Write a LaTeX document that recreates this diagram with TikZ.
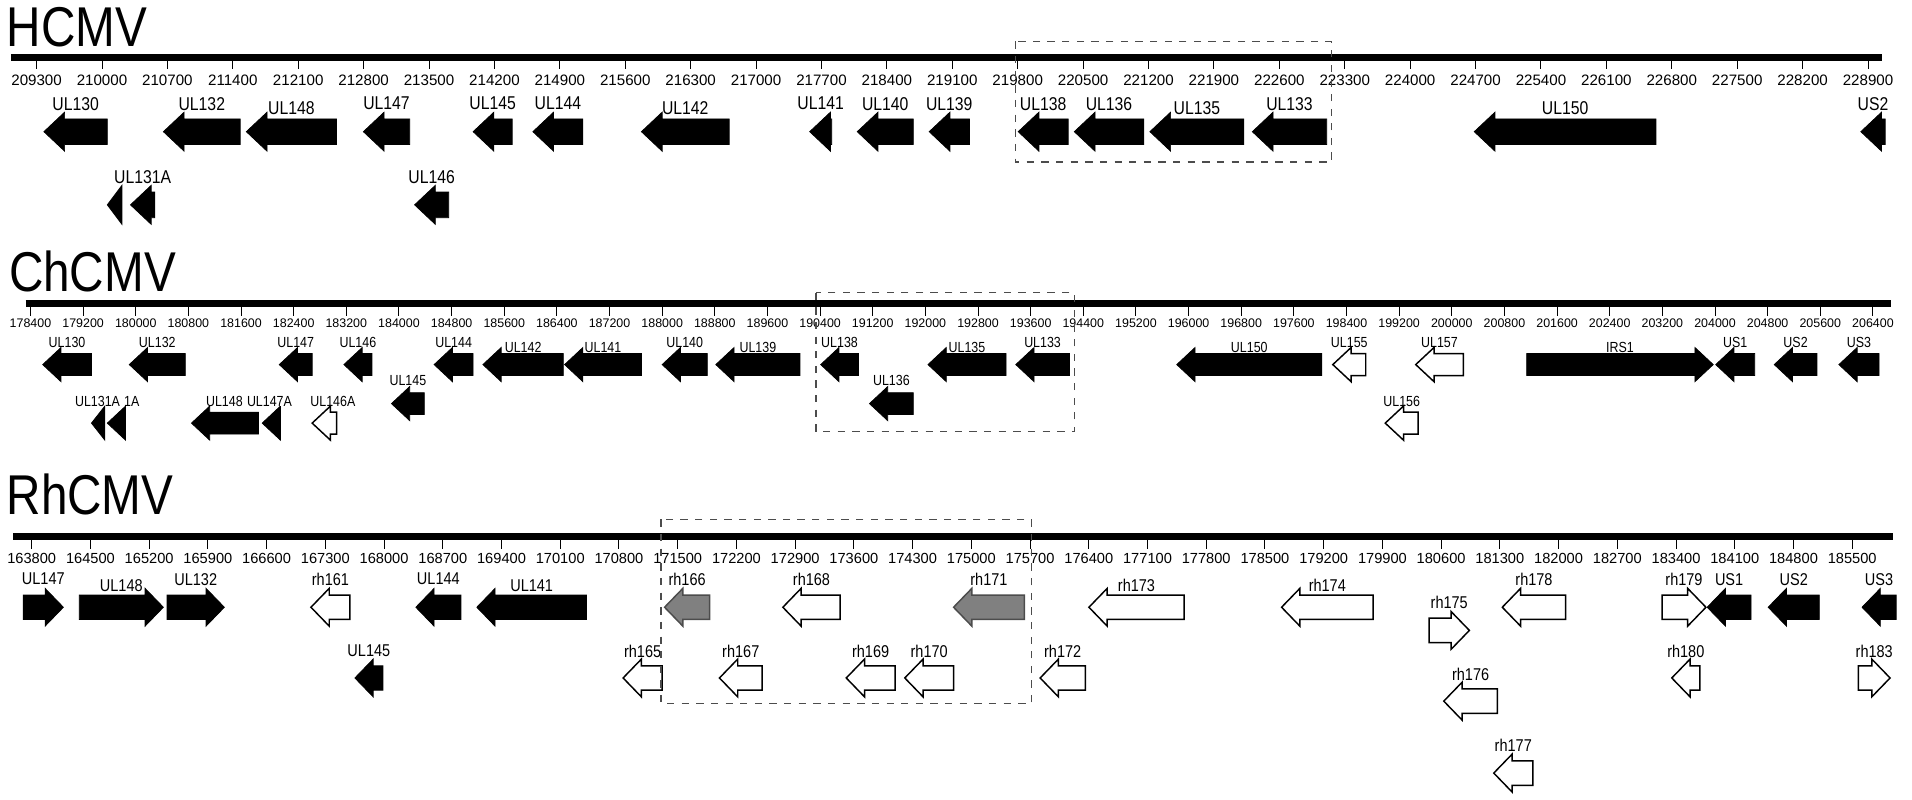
\documentclass[tikz,border=0pt]{standalone}
\usepackage{fontspec}
\setmainfont{Liberation Sans}
\newfontfamily\narrowf[FakeStretch=0.85]{Liberation Sans}
\newcount\gnum
% gene arrows: style, left x, right x, centre y, label, label y
\newcommand{\genL}[6]{%
  \pgfmathsetmacro{\hd}{min(\hl,#3-#2)}%
  \draw[#1] (#2,#4) -- ({#2+\hd},{#4-\hh}) -- ({#2+\hd},{#4-\hb}) -- (#3,{#4-\hb})
    -- (#3,{#4+\hb}) -- ({#2+\hd},{#4+\hb}) -- ({#2+\hd},{#4+\hh}) -- cycle;
  \global\advance\gnum by 1
  \node[lbl] (g\the\gnum) at ({(#2+#3)/2},#6) {#5};}
\newcommand{\genR}[6]{%
  \pgfmathsetmacro{\hd}{min(\hl,#3-#2)}%
  \draw[#1] (#3,#4) -- ({#3-\hd},{#4-\hh}) -- ({#3-\hd},{#4-\hb}) -- (#2,{#4-\hb})
    -- (#2,{#4+\hb}) -- ({#3-\hd},{#4+\hb}) -- ({#3-\hd},{#4+\hh}) -- cycle;
  \global\advance\gnum by 1
  \node[lbl] (g\the\gnum) at ({(#2+#3)/2},#6) {#5};}
% ruler: axis y, x from, x to, first tick x, tick step, ticks, first value, value step, label y
\newcommand{\ruler}[9]{%
  \draw[line width=2.8pt] (#2,#1) -- (#3,#1);
  \foreach \i in {0,...,#6} {
    \pgfmathsetmacro{\tx}{#4+\i*#5}
    \edef\tv{\the\numexpr#7+\i*#8\relax}
    \draw[thin] (\tx,#1) -- (\tx,#1+10);
    \node[tick] (t\i) at (\tx,#9) {\tv};
  }}
\begin{document}
\begin{tikzpicture}[x=0.5pt,y=-0.5pt,
  blk/.style={fill=black,draw=black,line width=0.3pt},
  opn/.style={fill=white,draw=black,line width=0.6pt},
  gry/.style={fill=black!50,draw=black!70,line width=0.6pt},
  dbox/.style={draw=black!70,dashed,line width=0.6pt},
  title/.style={anchor=base west,inner sep=0pt,font=\narrowf\fontsize{23}{23}\selectfont},
  lbl/.style={inner sep=0pt,font=\narrowf\fontsize{7.6}{8}\selectfont},
  tick/.style={inner sep=0pt,font=\fontsize{6.2}{7}\selectfont}]
\useasboundingbox (0,0) rectangle (1568,656);

% HCMV
\node[title] (hcmv) at (5,38) {HCMV};
\ruler{47}{9}{1543}{30}{53.64}{28}{209300}{700}{66}
\def\hb{10.5}\def\hh{16}\def\hl{17}
\genL{blk}{36}{88}{108}{UL130}{85}
\genL{blk}{134}{197}{108}{UL132}{85}
\genL{blk}{202}{276}{108}{UL148}{89}
\genL{blk}{298}{336}{108}{UL147}{85}
\genL{blk}{388}{420}{108}{UL145}{85}
\genL{blk}{437}{478}{108}{UL144}{85}
\genL{blk}{526}{598}{108}{UL142}{89}
\genL{blk}{664}{682}{108}{UL141}{85}
\genL{blk}{703}{749}{108}{UL140}{85}
\genL{blk}{762}{795}{108}{UL139}{85}
\genL{blk}{835}{876}{108}{UL138}{85}
\genL{blk}{881}{938}{108}{UL136}{85}
\genL{blk}{943}{1020}{108}{UL135}{89}
\genL{blk}{1027}{1088}{108}{UL133}{85}
\genL{blk}{1209}{1358}{108}{UL150}{89}
\genL{blk}{1526}{1546}{108}{US2}{85}
\genL{blk}{88}{100}{168}{}{145}
\genL{blk}{107}{127}{168}{UL131A}{145}
\genL{blk}{340}{368}{168}{UL146}{145}
\draw[dbox] (833,34) rectangle (1092,133);

% ChCMV
\node[title] (chcmv) at (7,239) {ChCMV};
\begin{scope}[lbl/.append style={font=\narrowf\fontsize{6}{7}\selectfont},
  tick/.append style={font=\fontsize{5.1}{6}\selectfont}]
\ruler{249}{21}{1551}{25}{43.17}{35}{178400}{800}{265}
\def\hb{9}\def\hh{14}\def\hl{15}
\genL{blk}{35}{75}{299}{UL130}{281}
\genL{blk}{106}{152}{299}{UL132}{281}
\genL{blk}{229}{256}{299}{UL147}{281}
\genL{blk}{282}{305}{299}{UL146}{281}
\genL{blk}{356}{388}{299}{UL144}{281}
\genL{blk}{396}{462}{299}{UL142}{285}
\genL{blk}{463}{526}{299}{UL141}{285}
\genL{blk}{543}{580}{299}{UL140}{281}
\genL{blk}{587}{656}{299}{UL139}{285}
\genL{blk}{673}{704}{299}{UL138}{281}
\genL{blk}{761}{825}{299}{UL135}{285}
\genL{blk}{833}{877}{299}{UL133}{281}
\genL{blk}{965}{1084}{299}{UL150}{285}
\genL{opn}{1093}{1120}{299}{UL155}{281}
\genL{opn}{1161}{1200}{299}{UL157}{281}
\genR{blk}{1252}{1405}{299}{IRS1}{285}
\genL{blk}{1407}{1439}{299}{US1}{281}
\genL{blk}{1455}{1490}{299}{US2}{281}
\genL{blk}{1508}{1541}{299}{US3}{281}
\genL{blk}{321}{348}{331}{UL145}{312}
\genL{blk}{713}{749}{331}{UL136}{312}
\genL{blk}{75}{86}{347}{}{329}
\genL{blk}{88}{103}{347}{}{329}
\genL{blk}{157}{212}{347}{}{329}
\genL{blk}{215}{230}{347}{}{329}
\genL{opn}{256}{276}{347}{}{329}
\genL{opn}{1136}{1163}{347}{UL156}{329}
\node[lbl] (ul131a) at (80,329) {UL131A};
\node[lbl] (ul131b) at (108,329) {1A};
\node[lbl] (ul148) at (184,329) {UL148};
\node[lbl,fill=white,inner xsep=1pt] (ul147a) at (221,329) {UL147A};
\node[lbl] (ul146a) at (273,329) {UL146A};
\end{scope}
\draw[dbox] (669,240) rectangle (881,354);

% RhCMV
\node[title] (rhcmv) at (5,422) {RhCMV};
\begin{scope}[lbl/.append style={font=\narrowf\fontsize{7}{8}\selectfont},
  tick/.append style={font=\fontsize{6}{7}\selectfont}]
\ruler{440}{11}{1552}{26}{48.16}{31}{163800}{700}{458}
\def\hb{10}\def\hh{15.5}\def\hl{15}
\genR{blk}{19}{52}{498}{UL147}{475}
\genR{blk}{65}{134}{498}{UL148}{480}
\genR{blk}{137}{184}{498}{UL132}{475}
\genL{opn}{255}{287}{498}{rh161}{475}
\genL{blk}{341}{378}{498}{UL144}{475}
\genL{blk}{391}{481}{498}{UL141}{480}
\genL{gry}{545}{582}{498}{rh166}{475}
\genL{opn}{642}{689}{498}{rh168}{475}
\genL{gry}{782}{840}{498}{rh171}{475}
\genL{opn}{893}{971}{498}{rh173}{480}
\genL{opn}{1051}{1126}{498}{rh174}{480}
\genL{opn}{1232}{1284}{498}{rh178}{475}
\genR{opn}{1363}{1399}{498}{rh179}{475}
\genL{blk}{1400}{1436}{498}{US1}{475}
\genL{blk}{1450}{1492}{498}{US2}{475}
\genL{blk}{1527}{1555}{498}{US3}{475}
\genR{opn}{1172}{1205}{517}{rh175}{494}
\genL{blk}{291}{314}{556}{UL145}{534}
\genL{opn}{511}{543}{556}{rh165}{534}
\genL{opn}{590}{625}{556}{rh167}{534}
\genL{opn}{694}{734}{556}{rh169}{534}
\genL{opn}{742}{782}{556}{rh170}{534}
\genL{opn}{853}{890}{556}{rh172}{534}
\genL{opn}{1371}{1394}{556}{rh180}{534}
\genR{opn}{1524}{1550}{556}{rh183}{534}
\genL{opn}{1184}{1228}{575}{rh176}{553}
\genL{opn}{1225}{1257}{634}{rh177}{611}
\end{scope}
\draw[dbox] (542,426) rectangle (846,577);
\end{tikzpicture}
\end{document}
